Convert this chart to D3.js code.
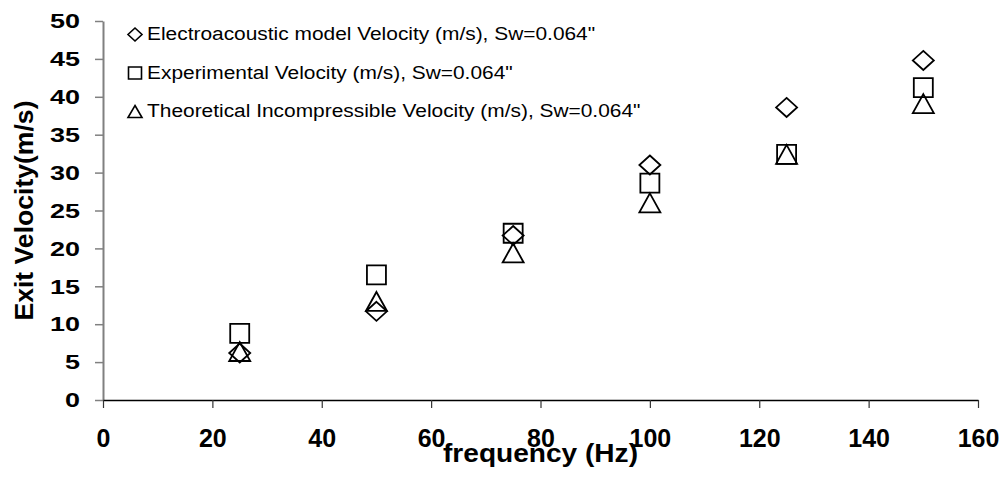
<!DOCTYPE html>
<html>
<head>
<meta charset="utf-8">
<script src="https://cdn.jsdelivr.net/npm/d3@7"></script>
<style>
  html, body { margin: 0; padding: 0; background: #fff; }
  svg { display: block; font-family: "Liberation Sans", Arial, sans-serif; }
</style>
</head>
<body>
<svg id="chart" width="1003" height="479"></svg>
<script>
// ---- data ----
const frequency = [25, 50, 75, 100, 125, 150];
const electroacoustic = [6.2, 11.7, 21.7, 31.0, 38.6, 44.8];
const experimental = [8.8, 16.5, 22.0, 28.6, 32.4, 41.2];
const theoretical = [6.4, 13.0, 19.4, 26.0, 32.4, 39.1];
const xTicks = [0, 20, 40, 60, 80, 100, 120, 140, 160];
const yTicks = [0, 5, 10, 15, 20, 25, 30, 35, 40, 45, 50];
const seriesNames = [
  'Electroacoustic model Velocity (m/s), Sw=0.064"',
  'Experimental Velocity (m/s), Sw=0.064"',
  'Theoretical Incompressible Velocity (m/s), Sw=0.064"'
];
const xTitle = "frequency (Hz)";
const yTitle = "Exit Velocity(m/s)";

// ---- layout ----
const svg = d3.select("#chart");
const x = d3.scaleLinear().domain([0, 160]).range([103, 978]);
const y = d3.scaleLinear().domain([0, 50]).range([400, 21]);

// marker path generators (centered at 0,0)
function diamond(w, h) { return `M0,${-h/2}L${w/2},0L0,${h/2}L${-w/2},0Z`; }
function square(w, h) { return `M${-w/2},${-h/2}H${w/2}V${h/2}H${-w/2}Z`; }
function triangle(w, h) { return `M0,${-h/2}L${w/2},${h/2}H${-w/2}Z`; }

// ---- axes ----
const yAxis = svg.append("g")
  .attr("transform", `translate(${x(0)},0)`)
  .call(d3.axisLeft(y).tickValues(yTicks).tickSize(8).tickSizeOuter(0).tickPadding(15));
yAxis.select(".domain").attr("stroke", "#808080").attr("stroke-width", 2);
yAxis.selectAll(".tick line").attr("stroke", "#808080").attr("stroke-width", 1.5);
yAxis.selectAll(".tick text")
  .attr("font-family", "Liberation Sans, Arial, sans-serif")
  .attr("font-size", 21).attr("font-weight", "bold").attr("fill", "#000")
  .attr("textLength", d => String(d).length * 15)
  .attr("lengthAdjust", "spacingAndGlyphs");

const xAxis = svg.append("g")
  .attr("transform", `translate(0,${y(0)})`)
  .call(d3.axisBottom(x).tickValues(xTicks).tickSize(8).tickSizeOuter(0));
xAxis.select(".domain").attr("stroke", "#000").attr("stroke-width", 1.5);
xAxis.selectAll(".tick line").attr("stroke", "#333").attr("stroke-width", 1.2);
xAxis.selectAll(".tick text")
  .attr("font-family", "Liberation Sans, Arial, sans-serif")
  .attr("font-size", 25).attr("font-weight", "bold").attr("fill", "#000")
  .attr("y", 47).attr("dy", 0);

// titles
svg.append("text")
  .attr("x", (x(0) + x(160)) / 2).attr("y", 462)
  .attr("text-anchor", "middle")
  .attr("font-size", 25).attr("font-weight", "bold")
  .attr("textLength", 195).attr("lengthAdjust", "spacingAndGlyphs")
  .text(xTitle);
svg.append("text")
  .attr("transform", `translate(33,${(y(0) + y(50)) / 2}) rotate(-90)`)
  .attr("text-anchor", "middle")
  .attr("font-size", 26).attr("font-weight", "bold")
  .attr("textLength", 220).attr("lengthAdjust", "spacingAndGlyphs")
  .text(yTitle);

// ---- data markers ----
const markerStyle = sel => sel.attr("fill", "none").attr("stroke", "#000").attr("stroke-width", 1.8);
const series = [
  { values: electroacoustic, path: diamond(21, 19) },
  { values: experimental, path: square(19, 19) },
  { values: theoretical, path: triangle(21, 19) }
];
series.forEach(s => {
  svg.append("g").selectAll("path")
    .data(frequency.map((f, i) => [f, s.values[i]]))
    .join("path")
    .attr("d", s.path)
    .attr("transform", d => `translate(${x(d[0])},${y(d[1])})`)
    .call(markerStyle);
});

// ---- legend ----
const legendPaths = [diamond(14, 13), square(13, 12), triangle(14, 12)];
const legend = svg.append("g");
const stretch = 1.1;
seriesNames.forEach((name, i) => {
  const base = 40 + i * 38.5;
  legend.append("path")
    .attr("d", legendPaths[i])
    .attr("transform", `translate(135,${base - 5.5})`)
    .attr("fill", "none").attr("stroke", "#000").attr("stroke-width", 1.6);
  legend.append("text")
    .attr("transform", `translate(147,${base}) scale(${stretch},1)`)
    .attr("font-size", 19).attr("fill", "#000")
    .text(name);
});
</script>
</body>
</html>
